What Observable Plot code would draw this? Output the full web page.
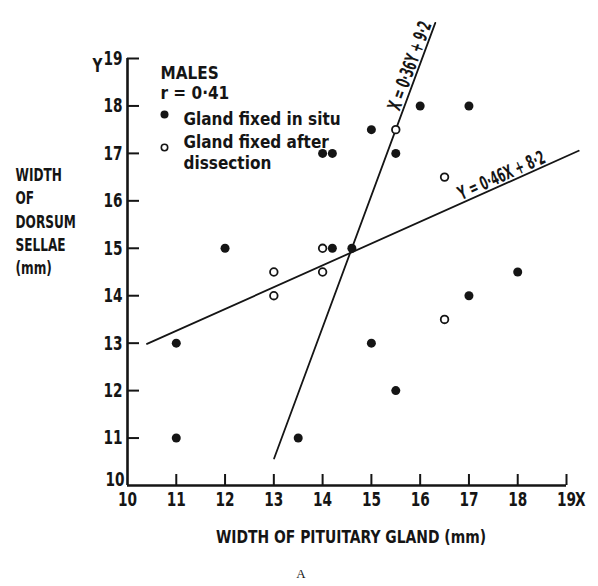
<!DOCTYPE html>
<html>
<head>
<meta charset="utf-8">
<script src="https://cdn.jsdelivr.net/npm/d3@7"></script>
<script src="https://cdn.jsdelivr.net/npm/@observablehq/plot@0.6"></script>
<style>
  html, body { margin: 0; padding: 0; background: #fff; }
  #chart { width: 598px; height: 586px; }
</style>
</head>
<body>
<div id="chart"></div>
<script>
// Width of pituitary gland (x, mm) against width of dorsum sellae (y, mm), males
const inSituX = [11, 13.5, 11, 12, 14.2, 14.6, 15, 15.5, 17, 18, 14, 14.2, 15.5, 15, 16, 17];
const inSituY = [11, 11, 13, 15, 15, 15, 13, 12, 14, 14.5, 17, 17, 17, 17.5, 18, 18];
const afterX = [13, 13, 14, 14, 16.5, 16.5, 15.5];
const afterY = [14, 14.5, 14.5, 15, 13.5, 16.5, 17.5];

// Regression lines: Y on X and X on Y
const yOnX = {slope: 0.46, intercept: 8.2, from: 10.4, to: 19.25, label: "Y = 0·46X + 8·2"};
const xOnY = {slope: 0.36, intercept: 9.2, from: 10.57, to: 19.75, label: "X = 0·36Y + 9·2"};

const xTicks = [10, 11, 12, 13, 14, 15, 16, 17, 18, 19];
const yTicks = [10, 11, 12, 13, 14, 15, 16, 17, 18, 19];

const legendTitle = ["MALES", "r = 0·41"];
const legendInSitu = "Gland fixed in situ";
const legendAfter = ["Gland fixed after", "dissection"];
const xTitle = "WIDTH OF PITUITARY GLAND (mm)";
const yTitleLines = ["WIDTH", "OF", "DORSUM", "SELLAE", "(mm)"];
const panelLabel = "A";

const inSitu = inSituX.map((x, i) => ({x, y: inSituY[i]}));
const after = afterX.map((x, i) => ({x, y: afterY[i]}));
const lineYX = [yOnX.from, yOnX.to].map(x => ({x, y: yOnX.slope * x + yOnX.intercept}));
const lineXY = [xOnY.from, xOnY.to].map(y => ({x: xOnY.slope * y + xOnY.intercept, y}));

const W = 598, H = 586, mt = 58, mb = 101, ml = 127, mr = 32;
const fw = W - ml - mr, fh = H - mt - mb;
const pxX = fw / (xTicks[xTicks.length - 1] - xTicks[0]);
const pxY = fh / (yTicks[yTicks.length - 1] - yTicks[0]);
const angYX = -Math.atan(yOnX.slope * pxY / pxX) * 180 / Math.PI;
const angXY = -Math.atan(pxY / (xOnY.slope * pxX)) * 180 / Math.PI;

const font = "'DejaVu Sans Condensed', 'DejaVu Sans', sans-serif";
const ink = "#151515";

// where the equation labels sit along their lines
const yLab = 18.8;
const xLab = 17.72;

// Condensed lettering: each tagged group is scaled horizontally by its factor
const squeeze = {"tick-label": 0.76, "axis-title": 0.75, "x-title": 0.86, "fit-label": 0.62};

const txt = (data, opts) => Plot.text(data, {fill: ink, fontWeight: "bold", ...opts});

const chart = Plot.plot({
  width: W, height: H,
  marginTop: mt, marginBottom: mb, marginLeft: ml, marginRight: mr,
  x: {domain: [xTicks[0], xTicks[xTicks.length - 1]], axis: null},
  y: {domain: [yTicks[0], yTicks[yTicks.length - 1]], axis: null},
  style: {fontFamily: font, background: "#fff", color: ink, overflow: "visible"},
  marks: [
    // axes
    Plot.ruleY([yTicks[0]], {x1: xTicks[0], x2: xTicks[xTicks.length - 1], stroke: ink, strokeWidth: 2.6}),
    Plot.ruleX([xTicks[0]], {y1: yTicks[0], y2: yTicks[yTicks.length - 1], stroke: ink, strokeWidth: 2.6}),
    Plot.ruleX(xTicks.slice(1), {x: d => d, insetTop: fh - 11, stroke: ink, strokeWidth: 2}),
    Plot.ruleY(yTicks.slice(1), {y: d => d, insetRight: fw - 12, stroke: ink, strokeWidth: 2}),
    txt(xTicks, {x: d => d, frameAnchor: "bottom", dy: 20, text: d => String(d), fontSize: 20, ariaDescription: "tick-label"}),
    txt(yTicks.slice(1), {y: d => d, frameAnchor: "left", dx: -5, textAnchor: "end", text: d => String(d), fontSize: 20, ariaDescription: "tick-label"}),
    txt(yTicks.slice(0, 1), {y: d => d, frameAnchor: "left", dx: -3, dy: -6, textAnchor: "end", text: d => String(d), fontSize: 20, ariaDescription: "tick-label"}),
    txt(["Y"], {frameAnchor: "top-left", dx: -35, dy: -1, fontSize: 20, ariaDescription: "tick-label"}),
    txt(["X"], {frameAnchor: "bottom-right", dx: 19, dy: 20, fontSize: 20, ariaDescription: "tick-label"}),
    // axis titles
    txt([xTitle], {frameAnchor: "bottom", dx: 4, dy: 57, fontSize: 18, ariaDescription: "x-title"}),
    ...yTitleLines.map((t, i) => txt([t], {frameAnchor: "left", textAnchor: "start", dx: -112, dy: -97 + i * 23.4, fontSize: 18, ariaDescription: "axis-title"})),
    Plot.text([panelLabel], {frameAnchor: "bottom", dx: -46, dy: 92, fontSize: 13, fontFamily: "'Liberation Serif', serif", fill: ink}),
    // regression lines
    Plot.line(lineYX, {x: "x", y: "y", stroke: ink, strokeWidth: 1.8}),
    Plot.line(lineXY, {x: "x", y: "y", stroke: ink, strokeWidth: 1.8}),
    txt([xOnY.label], {x: () => xOnY.slope * yLab + xOnY.intercept, y: () => yLab, rotate: angXY, lineAnchor: "bottom", dx: -3, fontSize: 19, ariaDescription: "fit-label"}),
    txt([yOnX.label], {x: () => xLab, y: () => yOnX.slope * xLab + yOnX.intercept, rotate: angYX, lineAnchor: "bottom", dy: -3, fontSize: 19, ariaDescription: "fit-label"}),
    // observations
    Plot.dot(inSitu, {x: "x", y: "y", r: 4.5, fill: ink, stroke: "none"}),
    Plot.dot(after, {x: "x", y: "y", r: 3.8, fill: "#fff", stroke: ink, strokeWidth: 1.8}),
    // legend
    txt([legendTitle[0]], {frameAnchor: "top-left", dx: 33, dy: 8, textAnchor: "start", fontSize: 17, letterSpacing: "0.5px"}),
    txt([legendTitle[1]], {frameAnchor: "top-left", dx: 33, dy: 28, textAnchor: "start", fontSize: 17, letterSpacing: "0.5px"}),
    Plot.dot([0], {frameAnchor: "top-left", dx: 37, dy: 56, r: 4, fill: ink, stroke: "none"}),
    txt([legendInSitu], {frameAnchor: "top-left", dx: 56, dy: 54, textAnchor: "start", fontSize: 17, letterSpacing: "1.8px"}),
    Plot.dot([0], {frameAnchor: "top-left", dx: 37, dy: 89, r: 3.2, fill: "#fff", stroke: ink, strokeWidth: 1.6}),
    txt([legendAfter[0]], {frameAnchor: "top-left", dx: 56, dy: 77, textAnchor: "start", fontSize: 17, letterSpacing: "1.2px"}),
    txt([legendAfter[1]], {frameAnchor: "top-left", dx: 56, dy: 98, textAnchor: "start", fontSize: 17, letterSpacing: "1.5px"})
  ]
});
document.getElementById("chart").appendChild(chart);

// horizontal scale about each text's own anchor point
for (const [label, k] of Object.entries(squeeze)) {
  d3.select(chart).selectAll(`g[aria-description="${label}"] text`).each(function() {
    const t = this.getAttribute("transform");
    if (t) {
      this.setAttribute("transform", `${t} scale(${k},1)`);
    } else {
      const x = +this.getAttribute("x") || 0, y = +this.getAttribute("y") || 0;
      this.setAttribute("transform", `translate(${x},${y}) scale(${k},1) translate(${-x},${-y})`);
    }
  });
}
</script>
</body>
</html>
